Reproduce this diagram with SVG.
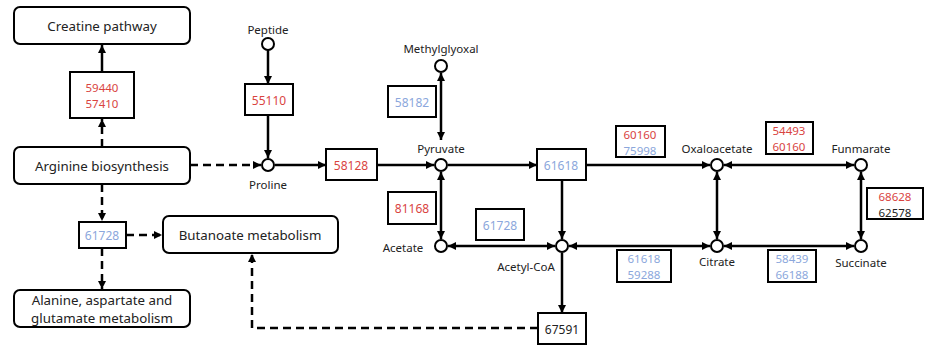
<svg xmlns="http://www.w3.org/2000/svg" width="925" height="347" viewBox="0 0 925 347">
<style>
.rb{fill:#fff;stroke:#000;stroke-width:2}
.bx{fill:#fff;stroke:#000;stroke-width:2}
.nd{fill:#fff;stroke:#000;stroke-width:2}
.t{font-family:"Noto Sans","DejaVu Sans",sans-serif;text-anchor:middle;dominant-baseline:central}
.big{font-size:13.3px;fill:#222}
.lab{font-size:11.5px;fill:#222}
.num{font-size:12px}
.n2{font-size:11.5px}
.r{fill:#d9443f}
.b{fill:#8ba7dc}
.k{fill:#222}
.ln{fill:none;stroke:#000;stroke-width:2.5}
.ds{stroke-dasharray:8 5}
</style>
<defs>
<marker id="a" viewBox="0 0 10 10" refX="10" refY="5" markerWidth="9" markerHeight="8" markerUnits="userSpaceOnUse" orient="auto-start-reverse"><path d="M0,0 L10,5 L0,10 z" fill="#000"/></marker>
</defs>
<g id="connectors">
<line class="ln" x1="102" y1="72" x2="102" y2="45" marker-end="url(#a)"/>
<line class="ln ds" x1="102" y1="147" x2="102" y2="119" marker-end="url(#a)"/>
<line class="ln ds" x1="190" y1="165" x2="261" y2="165" marker-end="url(#a)"/>
<line class="ln" x1="268" y1="50" x2="268" y2="84" marker-end="url(#a)"/>
<line class="ln" x1="268" y1="115" x2="268" y2="158" marker-end="url(#a)"/>
<line class="ln" x1="275" y1="165" x2="326" y2="165" marker-end="url(#a)"/>
<line class="ln" x1="377" y1="165" x2="434" y2="165" marker-end="url(#a)"/>
<line class="ln" x1="441" y1="73" x2="441" y2="140" marker-start="url(#a)" marker-end="url(#a)"/>
<line class="ln" x1="448" y1="165" x2="537" y2="165" marker-end="url(#a)"/>
<line class="ln" x1="586" y1="165" x2="710" y2="165" marker-end="url(#a)"/>
<line class="ln" x1="724" y1="165" x2="854" y2="165" marker-start="url(#a)" marker-end="url(#a)"/>
<line class="ln" x1="717" y1="172" x2="717" y2="239" marker-start="url(#a)" marker-end="url(#a)"/>
<line class="ln" x1="861" y1="172" x2="861" y2="239" marker-start="url(#a)" marker-end="url(#a)"/>
<line class="ln" x1="724" y1="246" x2="854" y2="246" marker-start="url(#a)" marker-end="url(#a)"/>
<line class="ln" x1="569" y1="246" x2="710" y2="246" marker-start="url(#a)" marker-end="url(#a)"/>
<line class="ln" x1="562" y1="180" x2="562" y2="239" marker-end="url(#a)"/>
<line class="ln" x1="441" y1="172" x2="441" y2="239" marker-start="url(#a)" marker-end="url(#a)"/>
<line class="ln" x1="448" y1="246" x2="555" y2="246" marker-start="url(#a)" marker-end="url(#a)"/>
<line class="ln" x1="562" y1="253" x2="562" y2="313" marker-end="url(#a)"/>
<path class="ln ds" d="M538,328 H252 V254" marker-end="url(#a)"/>
<line class="ln ds" x1="102" y1="184" x2="102" y2="221" marker-end="url(#a)"/>
<line class="ln ds" x1="126" y1="235" x2="162" y2="235" marker-end="url(#a)"/>
<line class="ln ds" x1="102" y1="248" x2="102" y2="289" marker-end="url(#a)"/>
</g>
<g id="creatine"><rect class="rb" x="14" y="7" width="176" height="37" rx="6"/><text class="t big" x="102" y="26">Creatine pathway</text></g>
<g id="e59440"><rect class="bx" x="70" y="72" width="64" height="46"/><text class="t n2 r" x="102" y="87">59440<tspan x="102" dy="16">57410</tspan></text></g>
<g id="arginine"><rect class="rb" x="14" y="147" width="176" height="37" rx="6"/><text class="t big" x="102" y="166">Arginine biosynthesis</text></g>
<g id="e61728a"><rect class="bx" x="79" y="222" width="47" height="26"/><text class="t num b" x="102" y="235">61728</text></g>
<g id="butanoate"><rect class="rb" x="163" y="216" width="175" height="37" rx="6"/><text class="t big" x="250" y="235">Butanoate metabolism</text></g>
<g id="alanine"><rect class="rb" x="14" y="290" width="176" height="37" rx="6"/><text class="t big" x="102" y="300">Alanine, aspartate and<tspan x="102" dy="18">glutamate metabolism</tspan></text></g>
<g id="peptide"><circle class="nd" cx="268" cy="44" r="6"/><text class="t lab" x="268" y="29">Peptide</text></g>
<g id="e55110"><rect class="bx" x="245" y="84" width="48" height="31"/><text class="t num r" x="269" y="100">55110</text></g>
<g id="proline"><circle class="nd" cx="268" cy="165" r="6"/><text class="t lab" x="268" y="184">Proline</text></g>
<g id="e58128"><rect class="bx" x="326" y="149" width="51" height="31"/><text class="t num r" x="351" y="165">58128</text></g>
<g id="methylglyoxal"><circle class="nd" cx="441" cy="66" r="6"/><text class="t lab" x="441" y="48">Methylglyoxal</text></g>
<g id="e58182"><rect class="bx" x="388" y="86" width="48" height="31"/><text class="t num b" x="412" y="102">58182</text></g>
<g id="pyruvate"><circle class="nd" cx="441" cy="165" r="6"/><text class="t lab" x="441" y="148">Pyruvate</text></g>
<g id="e61618"><rect class="bx" x="537" y="149" width="49" height="31"/><text class="t num b" x="561" y="165">61618</text></g>
<g id="e60160"><rect class="bx" x="616" y="126" width="49" height="31"/><text class="t n2 r" x="640" y="134">60160<tspan class="b" x="640" dy="16">75998</tspan></text></g>
<g id="oxaloacetate"><circle class="nd" cx="717" cy="165" r="6"/><text class="t lab" x="717" y="148">Oxaloacetate</text></g>
<g id="e54493"><rect class="bx" x="766" y="122" width="47" height="32"/><text class="t n2 r" x="789" y="130">54493<tspan x="789" dy="16">60160</tspan></text></g>
<g id="funmarate"><circle class="nd" cx="861" cy="165" r="6"/><text class="t lab" x="861" y="148">Funmarate</text></g>
<g id="e68628"><rect class="bx" x="867" y="188" width="56" height="31"/><text class="t n2 r" x="895" y="196">68628<tspan class="k" x="895" dy="16">62578</tspan></text></g>
<g id="succinate"><circle class="nd" cx="861" cy="246" r="6"/><text class="t lab" x="861" y="262">Succinate</text></g>
<g id="citrate"><circle class="nd" cx="717" cy="246" r="6"/><text class="t lab" x="717" y="261">Citrate</text></g>
<g id="e58439"><rect class="bx" x="768" y="250" width="48" height="32"/><text class="t n2 b" x="792" y="258">58439<tspan x="792" dy="16">66188</tspan></text></g>
<g id="e61618b"><rect class="bx" x="617" y="250" width="54" height="32"/><text class="t n2 b" x="644" y="258">61618<tspan x="644" dy="16">59288</tspan></text></g>
<g id="acetylcoa"><circle class="nd" cx="562" cy="246" r="6"/><text class="t lab" x="526" y="266">Acetyl-CoA</text></g>
<g id="acetate"><circle class="nd" cx="441" cy="246" r="6"/><text class="t lab" x="403" y="247">Acetate</text></g>
<g id="e81168"><rect class="bx" x="388" y="192" width="48" height="32"/><text class="t num r" x="412" y="208">81168</text></g>
<g id="e61728b"><rect class="bx" x="476" y="209" width="48" height="31"/><text class="t num b" x="500" y="225">61728</text></g>
<g id="e67591"><rect class="bx" x="538" y="313" width="48" height="31"/><text class="t num k" x="562" y="329">67591</text></g>
</svg>
